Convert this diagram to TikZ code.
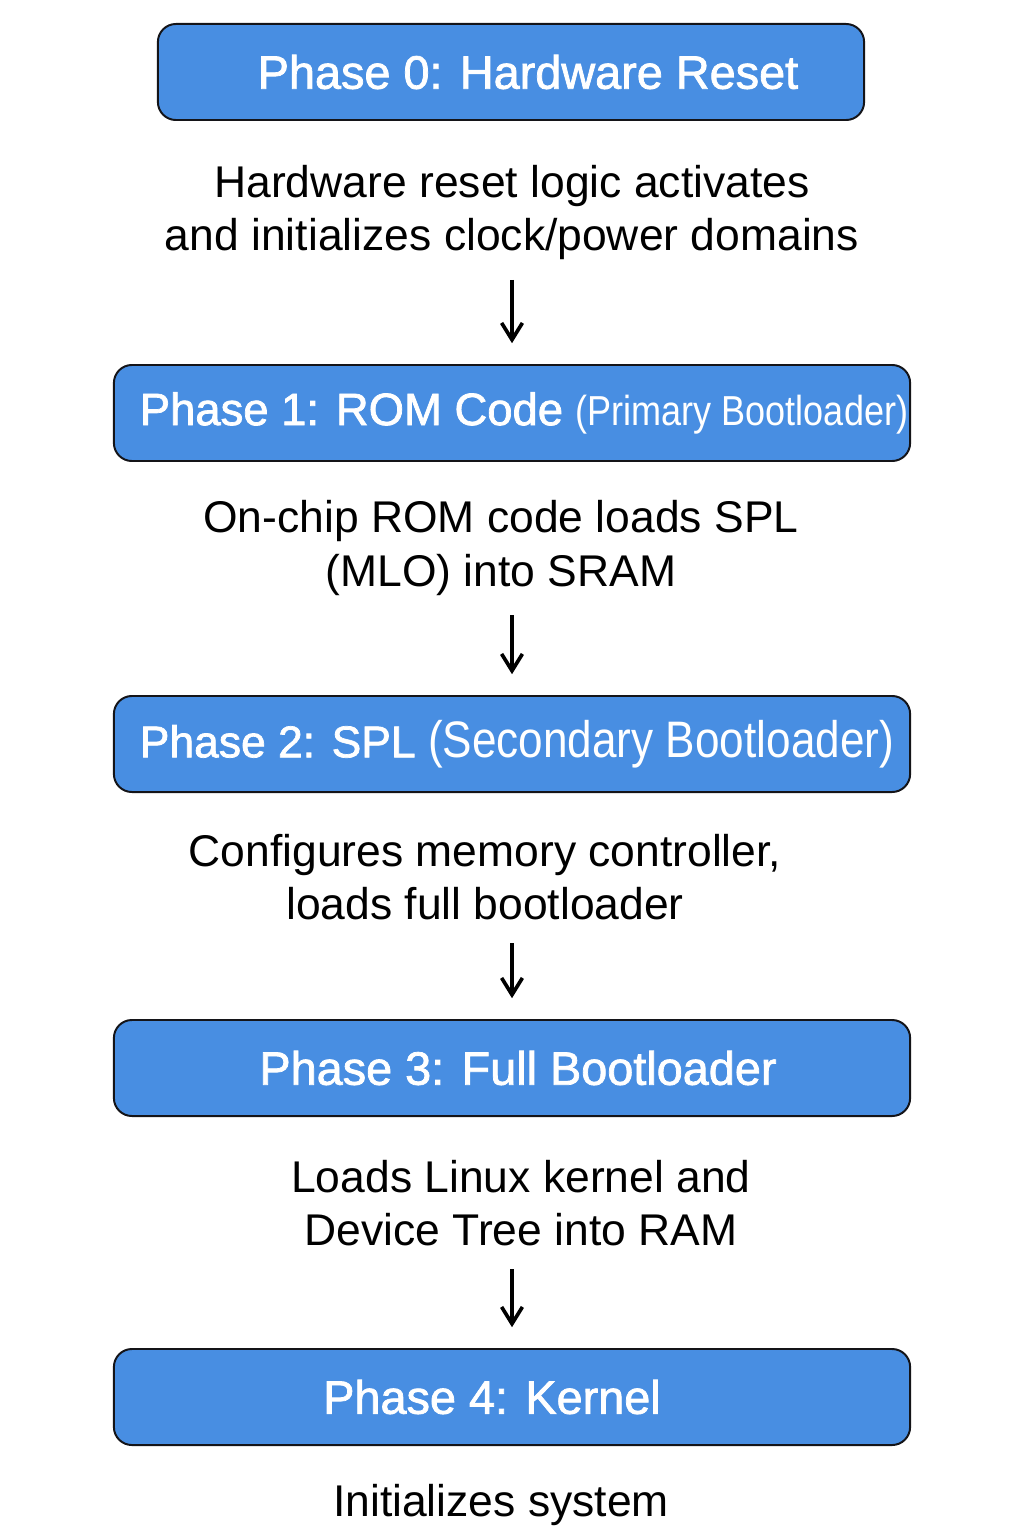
\documentclass[tikz,border=0pt]{standalone}
\usepackage{fontspec}
\setmainfont{Liberation Sans}
\newfontfamily\phasefont{Liberation Sans}[FakeBold=1.6]
\newfontfamily\phasesubfont{Liberation Sans}[FakeStretch=0.86]
\newfontfamily\descfont{Liberation Sans}
\usetikzlibrary{positioning,arrows,arrows.meta}
\definecolor{phaseblue}{RGB}{72,142,226}
\definecolor{phaseedge}{RGB}{20,20,24}
\newdimen\phaseh
\setlength{\phaseh}{2.4cm}
\tikzstyle{phasestyle}=[shape=rectangle,draw=phaseedge,fill=phaseblue,line width=1.4pt,rounded corners=0.45cm,minimum height=\phaseh,inner sep=0pt]
\tikzstyle{titlestyle}=[text=white,font={\phasefont\fontsize{33.3pt}{38pt}\selectfont},inner sep=0pt]
\tikzstyle{descstyle}=[align=center,font={\descfont\fontsize{31.6pt}{37.7pt}\selectfont},inner sep=0pt]
\tikzstyle{flowarrow}=[-{Straight Barb[length=0.42cm,width=0.52cm]},line width=2.6pt,shorten >=0.52cm]
\newcommand{\phasesub}[2]{{\phasesubfont\fontsize{#1}{34pt}\selectfont #2}}

\begin{document}
\begin{tikzpicture}[x=0.025cm,y=-0.025cm]
\useasboundingbox (0,0) rectangle (1024,1536);

% phase boxes
\node [phasestyle,minimum width=17.65cm] (box0) at (511,72) {};
\node [phasestyle,minimum width=19.9cm] (box1) at (512,413) {};
\node [phasestyle,minimum width=19.9cm] (box2) at (512,744) {};
\node [phasestyle,minimum width=19.9cm] (box3) at (512,1068) {};
\node [phasestyle,minimum width=19.9cm] (box4) at (512,1397) {};

% titles
\node [titlestyle] (title0) at (528,72) {Phase 0: Hardware Reset};
\node [titlestyle,font={\phasefont\fontsize{32.3pt}{38pt}\selectfont}] (title1) at (524,413) {Phase 1: ROM Code \phasesub{29.8pt}{(Primary Bootloader)}};
\node [titlestyle,font={\phasefont\fontsize{31.6pt}{38pt}\selectfont}] (title2) at (517,744) {Phase 2: SPL \phasesub{36.5pt}{(Secondary Bootloader)}};
\node [titlestyle] (title3) at (518,1068) {Phase 3: Full Bootloader};
\node [titlestyle] (title4) at (492,1397) {Phase 4: Kernel};

% descriptions
\node [descstyle] (desc0) at (512,213) {Hardware reset logic activates\\and initializes clock/power domains};
\node [descstyle] (desc1) at (501,548) {On-chip ROM code loads SPL\\(MLO) into SRAM};
\node [descstyle] (desc2) at (485,877) {Configures memory controller,\\loads full bootloader};
\node [descstyle] (desc3) at (521,1203) {Loads Linux kernel and\\Device Tree into RAM};
\node [descstyle] (desc4) at (501,1505) {Initializes system};

% arrows
\coordinate (from1) at (512,280);
\coordinate (from2) at (512,615);
\coordinate (from3) at (512,943);
\coordinate (from4) at (512,1269);
\draw [flowarrow] (from1) -- (box1.north);
\draw [flowarrow] (from2) -- (box2.north);
\draw [flowarrow] (from3) -- (box3.north);
\draw [flowarrow] (from4) -- (box4.north);
\end{tikzpicture}
\end{document}
